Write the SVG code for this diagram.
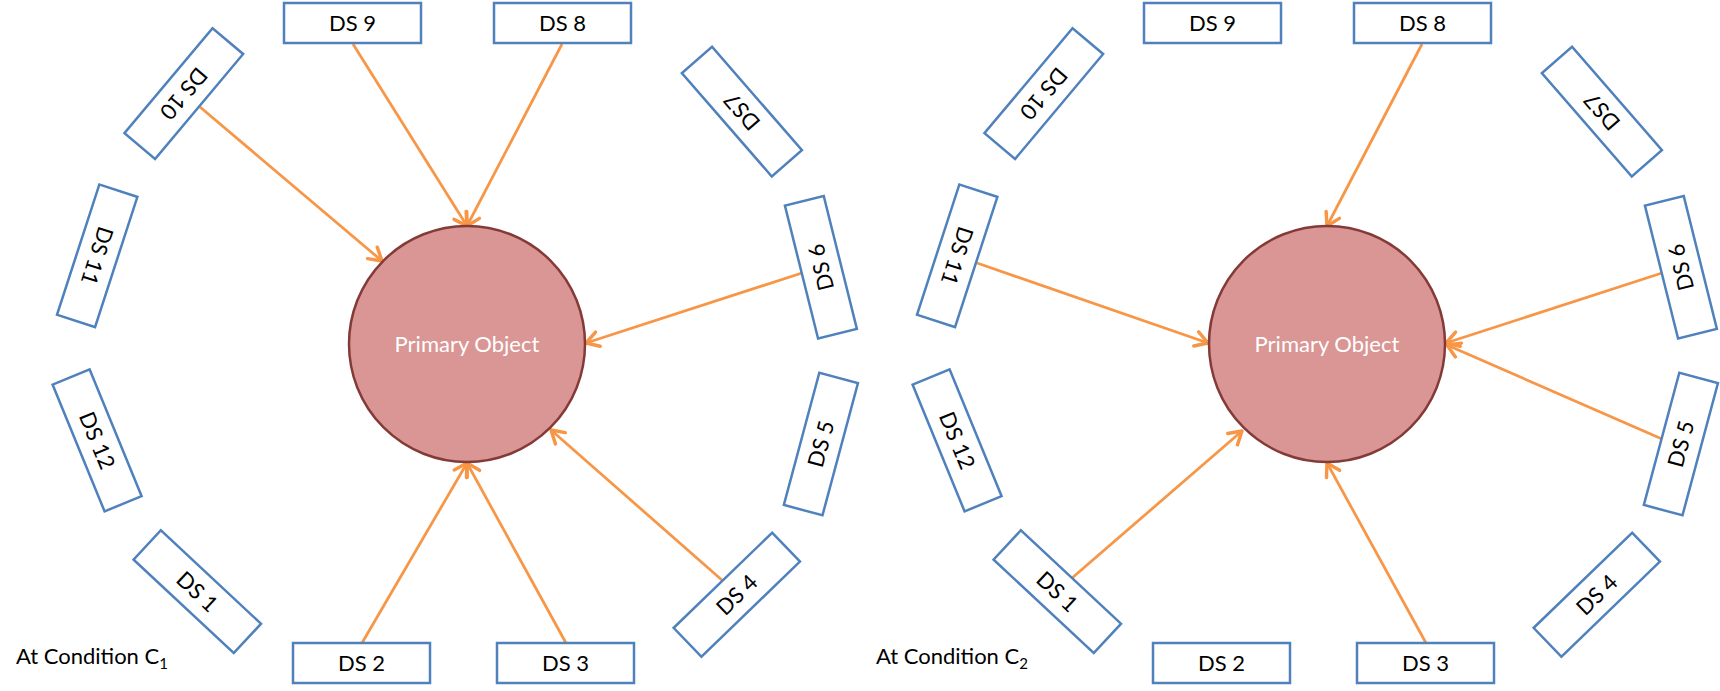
<svg xmlns="http://www.w3.org/2000/svg" width="1720" height="691" viewBox="0 0 1720 691">
<style>
.box rect{fill:#FFFFFF;stroke:#4F81BD;stroke-width:2.5}
.box text{font-family:Lato,"Liberation Sans",sans-serif;font-size:22px;fill:#000000;text-anchor:middle}
.obj circle{fill:#D99694;stroke:#843B38;stroke-width:2.5}
.obj text{font-family:Lato,"Liberation Sans",sans-serif;font-size:22px;fill:#FFFFFF;text-anchor:middle}
.conn line{stroke:#F79646;stroke-width:2.75;fill:none;marker-end:url(#arr)}
.lbl{font-family:Lato,"Liberation Sans",sans-serif;font-size:22px;fill:#000000}
</style>
<defs>
<marker id="arr" markerUnits="userSpaceOnUse" markerWidth="20" markerHeight="20" viewBox="-12 -8 14 16" refX="0" refY="0" orient="auto">
<path d="M-10,-6 L0,0 L-10,6" fill="none" stroke="#F79646" stroke-width="2.75" stroke-linecap="round" stroke-linejoin="round"/>
</marker>
</defs>
<rect width="1720" height="691" fill="#FFFFFF"/>

<!-- Left panel -->
<g id="left-connectors" class="conn">
<line x1="200" y1="107" x2="382" y2="261"/>
<line x1="353" y1="44" x2="467" y2="226"/>
<line x1="562" y1="44" x2="467" y2="226"/>
<line x1="802" y1="273" x2="586" y2="343"/>
<line x1="723" y1="581" x2="551" y2="430"/>
<line x1="566" y1="643" x2="467" y2="463"/>
<line x1="362" y1="643" x2="467" y2="463"/>
</g>
<g id="L-primary" class="obj"><circle cx="467" cy="344" r="118"/><text x="467" y="351.8">Primary Object</text></g>
<g id="L-ds1" class="box" transform="translate(197.3,591.7) rotate(43)"><rect x="-68.5" y="-20" width="137" height="40"/><text x="0" y="7.8">DS 1</text></g>
<g id="L-ds2" class="box" transform="translate(361.5,663)"><rect x="-68.5" y="-20" width="137" height="40"/><text x="0" y="7.8">DS 2</text></g>
<g id="L-ds3" class="box" transform="translate(565.5,663)"><rect x="-68.5" y="-20" width="137" height="40"/><text x="0" y="7.8">DS 3</text></g>
<g id="L-ds4" class="box" transform="translate(736.8,594.7) rotate(-44)"><rect x="-68.5" y="-20" width="137" height="40"/><text x="0" y="7.8">DS 4</text></g>
<g id="L-ds5" class="box" transform="translate(820.9,444) rotate(-75)"><rect x="-68.5" y="-20" width="137" height="40"/><text x="0" y="7.8">DS 5</text></g>
<g id="L-ds6" class="box" transform="translate(820.9,267.3) rotate(-104)"><rect x="-68.5" y="-20" width="137" height="40"/><text x="0" y="7.8">DS 6</text></g>
<g id="L-ds7" class="box" transform="translate(741.9,111.6) rotate(-131)"><rect x="-68.5" y="-20" width="137" height="40"/><text x="0" y="7.8">DS7</text></g>
<g id="L-ds8" class="box" transform="translate(562.5,23)"><rect x="-68.5" y="-20" width="137" height="40"/><text x="0" y="7.8">DS 8</text></g>
<g id="L-ds9" class="box" transform="translate(352.5,23)"><rect x="-68.5" y="-20" width="137" height="40"/><text x="0" y="7.8">DS 9</text></g>
<g id="L-ds10" class="box" transform="translate(183.8,93.6) rotate(130)"><rect x="-68.5" y="-20" width="137" height="40"/><text x="0" y="7.8">DS 10</text></g>
<g id="L-ds11" class="box" transform="translate(97.2,255.8) rotate(108)"><rect x="-68.5" y="-20" width="137" height="40"/><text x="0" y="7.8">DS 11</text></g>
<g id="L-ds12" class="box" transform="translate(97.1,440.4) rotate(67.7)"><rect x="-68.5" y="-20" width="137" height="40"/><text x="0" y="7.8">DS 12</text></g>
<text id="L-label" class="lbl" x="16" y="664">At Condition C<tspan font-size="15" dy="5">1</tspan></text>

<!-- Right panel -->
<g id="right-connectors" class="conn">
<line x1="1422" y1="44" x2="1327" y2="226"/>
<line x1="977" y1="263" x2="1208" y2="343"/>
<line x1="1662" y1="273" x2="1446" y2="343"/>
<line x1="1662" y1="439" x2="1447" y2="345"/>
<line x1="1072" y1="578" x2="1242" y2="431"/>
<line x1="1426" y1="643" x2="1327" y2="463"/>
</g>
<g id="R-primary" class="obj"><circle cx="1327" cy="344" r="118"/><text x="1327" y="351.8">Primary Object</text></g>
<g id="R-ds1" class="box" transform="translate(1057.3,591.7) rotate(43)"><rect x="-68.5" y="-20" width="137" height="40"/><text x="0" y="7.8">DS 1</text></g>
<g id="R-ds2" class="box" transform="translate(1221.5,663)"><rect x="-68.5" y="-20" width="137" height="40"/><text x="0" y="7.8">DS 2</text></g>
<g id="R-ds3" class="box" transform="translate(1425.5,663)"><rect x="-68.5" y="-20" width="137" height="40"/><text x="0" y="7.8">DS 3</text></g>
<g id="R-ds4" class="box" transform="translate(1596.8,594.7) rotate(-44)"><rect x="-68.5" y="-20" width="137" height="40"/><text x="0" y="7.8">DS 4</text></g>
<g id="R-ds5" class="box" transform="translate(1680.9,444) rotate(-75)"><rect x="-68.5" y="-20" width="137" height="40"/><text x="0" y="7.8">DS 5</text></g>
<g id="R-ds6" class="box" transform="translate(1680.9,267.3) rotate(-104)"><rect x="-68.5" y="-20" width="137" height="40"/><text x="0" y="7.8">DS 6</text></g>
<g id="R-ds7" class="box" transform="translate(1601.9,111.6) rotate(-131)"><rect x="-68.5" y="-20" width="137" height="40"/><text x="0" y="7.8">DS7</text></g>
<g id="R-ds8" class="box" transform="translate(1422.5,23)"><rect x="-68.5" y="-20" width="137" height="40"/><text x="0" y="7.8">DS 8</text></g>
<g id="R-ds9" class="box" transform="translate(1212.5,23)"><rect x="-68.5" y="-20" width="137" height="40"/><text x="0" y="7.8">DS 9</text></g>
<g id="R-ds10" class="box" transform="translate(1043.8,93.6) rotate(130)"><rect x="-68.5" y="-20" width="137" height="40"/><text x="0" y="7.8">DS 10</text></g>
<g id="R-ds11" class="box" transform="translate(957.2,255.8) rotate(108)"><rect x="-68.5" y="-20" width="137" height="40"/><text x="0" y="7.8">DS 11</text></g>
<g id="R-ds12" class="box" transform="translate(957.1,440.4) rotate(67.7)"><rect x="-68.5" y="-20" width="137" height="40"/><text x="0" y="7.8">DS 12</text></g>
<text id="R-label" class="lbl" x="876" y="664">At Condition C<tspan font-size="15" dy="5">2</tspan></text>
</svg>
